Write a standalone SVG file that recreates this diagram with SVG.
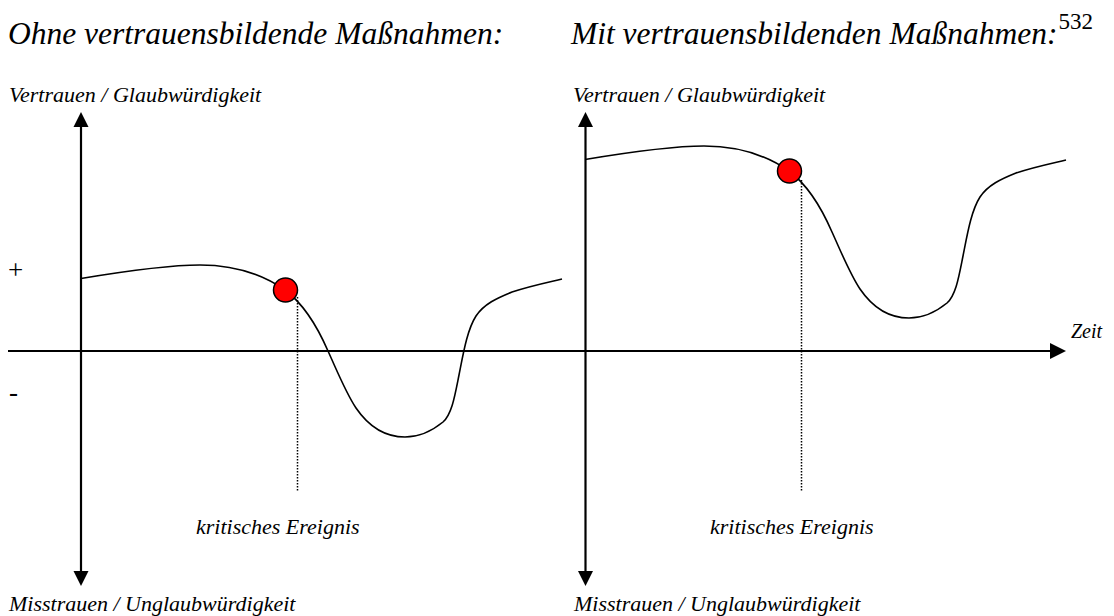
<svg xmlns="http://www.w3.org/2000/svg" xmlns:xlink="http://www.w3.org/1999/xlink" width="1114" height="616" viewBox="0 0 1114 616">
<style>
text{font-family:"Liberation Serif","Times New Roman",serif;fill:#000}
.title{font-size:31.5px;font-style:italic}
.lbl{font-size:22px;font-style:italic}
.zeit{font-size:20px;font-style:italic}
.sign{font-size:27px}
.axis{stroke:#000;stroke-width:2.2;fill:none}
.curve{stroke:#000;stroke-width:1.6;fill:none}
.dot{stroke:#000;stroke-width:1.5;stroke-dasharray:1.5 1.5;fill:none}
.evt{fill:#ff0000;stroke:#000;stroke-width:1.5}
.head{fill:#000}
</style>
<defs>
<path id="trend" d="M81,278.5 C120,272 165,265 200,265 C235,265 262,274 285,290 C305,305 318,328 328,351 C338,373 346,393 356,408 C369,427 386,437 405,437 C420,437 432,431 443,422 C452,414 455,395 459,375 C463,355 467,330 476,316 C484,304 497,298 512,292 C530,286 545,283 562,279"/>
</defs>
<rect width="1114" height="616" fill="#fff"/>
<g id="titles">
<text class="title" x="8" y="44">Ohne vertrauensbildende Maßnahmen:</text>
<text class="title" x="571" y="44">Mit vertrauensbildenden Maßnahmen:<tspan font-size="23" font-style="normal" dx="1" dy="-15">532</tspan></text>
</g>
<g id="connectors">
<line class="axis" x1="8" y1="351" x2="1052" y2="351"/>
<polygon class="head" points="1066,351 1050,343 1050,359"/>
<line class="axis" x1="81" y1="125" x2="81" y2="573"/>
<polygon class="head" points="81,112 73.5,127 88.5,127"/>
<polygon class="head" points="81,586 73.5,571 88.5,571"/>
<line class="axis" x1="585.5" y1="125" x2="585.5" y2="573"/>
<polygon class="head" points="585.5,112 578,127 593,127"/>
<polygon class="head" points="585.5,586 578,571 593,571"/>
</g>
<g id="left-graph">
<use xlink:href="#trend" class="curve"/>
<line class="dot" x1="297.5" y1="297" x2="297.5" y2="492"/>
<circle class="evt" cx="285.5" cy="290" r="12"/>
</g>
<g id="right-graph">
<use xlink:href="#trend" class="curve" transform="translate(504,-119)"/>
<line class="dot" x1="801.5" y1="180" x2="801.5" y2="492"/>
<circle class="evt" cx="789.5" cy="171" r="12"/>
</g>
<g id="labels">
<text class="lbl" x="9" y="102">Vertrauen / Glaubwürdigkeit</text>
<text class="lbl" x="573" y="102">Vertrauen / Glaubwürdigkeit</text>
<text class="lbl" x="9" y="611">Misstrauen / Unglaubwürdigkeit</text>
<text class="lbl" x="574" y="611">Misstrauen / Unglaubwürdigkeit</text>
<text class="lbl" x="196" y="534">kritisches Ereignis</text>
<text class="lbl" x="710" y="534">kritisches Ereignis</text>
<text class="zeit" x="1071" y="338">Zeit</text>
<text class="sign" x="8" y="279">+</text>
<text class="sign" x="9" y="401">-</text>
</g>
</svg>
